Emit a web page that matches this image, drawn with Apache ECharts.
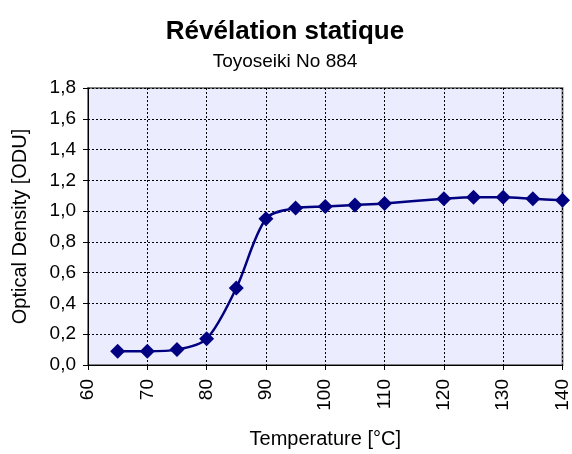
<!DOCTYPE html>
<html>
<head>
<meta charset="UTF-8">
<title>Révélation statique</title>
<script src="https://cdn.jsdelivr.net/npm/echarts@6/dist/echarts.min.js"></script>
<style>
  html, body { margin: 0; padding: 0; background: #fff; }
  #main { width: 572px; height: 454px; }
</style>
</head>
<body>
<div id="main"></div>
<script>
var temps = [65, 70, 75, 80, 85, 90, 95, 100, 105, 110, 120, 125, 130, 135, 140];
var density = [0.09, 0.09, 0.10, 0.17, 0.50, 0.95, 1.02, 1.03, 1.04, 1.05, 1.08, 1.09, 1.09, 1.08, 1.07];

var font = 'Liberation Sans, Arial, sans-serif';
var chart = echarts.init(document.getElementById('main'));

chart.setOption({
  animation: false,
  title: [{
    text: 'Révélation statique',
    left: 280, top: 14, textAlign: 'center',
    textStyle: { fontFamily: font, fontSize: 26, fontWeight: 'bold', color: '#000' }
  }, {
    text: 'Toyoseiki No 884',
    left: 280, top: 47, textAlign: 'center',
    textStyle: { fontFamily: font, fontSize: 19, fontWeight: 'normal', color: '#000' }
  }],
  grid: { left: 88, right: 8, top: 88, bottom: 89, show: true,
          backgroundColor: '#ececff', borderColor: '#808080', borderWidth: 2 },
  xAxis: {
    type: 'value', min: 60, max: 140, interval: 10,
    name: 'Temperature [°C]', nameLocation: 'middle', nameGap: 64,
    nameTextStyle: { fontFamily: font, fontSize: 20, color: '#000' },
    axisLine: { onZero: false, lineStyle: { color: '#000', width: 1 } },
    axisTick: { length: 5, lineStyle: { color: '#000' } },
    axisLabel: { rotate: 90, fontFamily: font, fontSize: 19, color: '#000', margin: 14 },
    splitLine: { lineStyle: { color: '#000', type: [2, 2], width: 1 } }
  },
  yAxis: {
    type: 'value', min: 0, max: 1.8, interval: 0.2,
    name: 'Optical Density [ODU]', nameLocation: 'middle', nameGap: 58,
    nameTextStyle: { fontFamily: font, fontSize: 20, color: '#000' },
    axisLine: { show: true, lineStyle: { color: '#000', width: 1 } },
    axisTick: { show: true, length: 5, lineStyle: { color: '#000' } },
    axisLabel: { fontFamily: font, fontSize: 19, color: '#000', margin: 12,
                 formatter: function (v) { return v.toFixed(1).replace('.', ','); } },
    splitLine: { lineStyle: { color: '#000', type: [2, 2], width: 1 } }
  },
  series: [{
    type: 'line',
    data: temps.map(function (t, i) { return [t, density[i]]; }),
    smooth: 0.3,
    symbol: 'diamond',
    symbolSize: 15,
    itemStyle: { color: '#000080' },
    lineStyle: { color: '#000080', width: 2.5 }
  }]
});
</script>
</body>
</html>
